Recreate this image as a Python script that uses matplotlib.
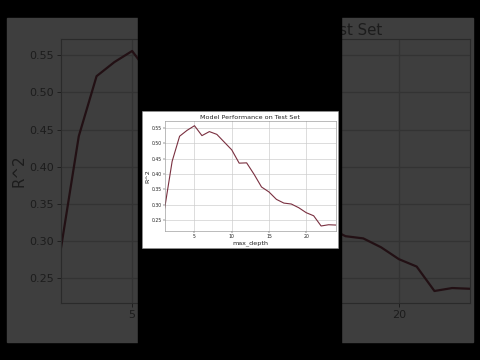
import matplotlib
matplotlib.use("Agg")
import matplotlib.pyplot as plt
from matplotlib.patches import Rectangle

# R^2 on the test set for each tree depth
max_depth = [1, 2, 3, 4, 5, 6, 7, 8, 9, 10, 11, 12,
             13, 14, 15, 16, 17, 18, 19, 20, 21, 22, 23, 24]
r2_scores = [0.290, 0.441, 0.522, 0.541, 0.556, 0.524, 0.537, 0.528,
             0.503, 0.478, 0.435, 0.436, 0.399, 0.358, 0.342, 0.318,
             0.306, 0.303, 0.291, 0.275, 0.265, 0.232, 0.236, 0.235]
x_ticks = [5, 10, 15, 20]
y_ticks = [0.25, 0.30, 0.35, 0.40, 0.45, 0.50, 0.55]

W, H = 480, 360


def px_rect(left, top, right, bottom):
    # pixel box (origin top-left) -> figure fraction [x, y, w, h]
    return [left / W, 1 - bottom / H, (right - left) / W, (bottom - top) / H]


def draw_chart(ax, tick_fs, label_fs, line_color, face, grid_color,
               spine_color, text_color, tick_len, tick_pad, lw):
    ax.set_facecolor(face)
    ax.plot(max_depth, r2_scores, color=line_color, linewidth=lw)
    ax.set_xlim(1, 24)
    ax.set_xticks(x_ticks)
    ax.set_yticks(y_ticks)
    ax.set_yticklabels([f"{v:.2f}" for v in y_ticks])
    ax.grid(True, color=grid_color, linewidth=lw * 0.6)
    ax.tick_params(labelsize=tick_fs, length=tick_len, pad=tick_pad,
                   colors=text_color, width=lw * 0.4)
    for s in ax.spines.values():
        s.set_color(spine_color)
        s.set_linewidth(lw * 0.5)
    ax.set_title("Model Performance on Test Set", fontsize=label_fs,
                 color=text_color, pad=tick_pad * 1.5)
    ax.set_xlabel("max_depth", fontsize=label_fs, color=text_color,
                  labelpad=tick_pad)
    ax.set_ylabel("R^2", fontsize=label_fs, color=text_color,
                  labelpad=tick_pad)


fig = plt.figure(figsize=(4.8, 3.6), dpi=100, facecolor="black")

# darkened, enlarged copy in the background
fig.add_artist(Rectangle((7 / W, 1 - 342 / H), 466 / W, 324 / H,
                         transform=fig.transFigure, color="#3e3e3e",
                         zorder=-1))
ax_bg = fig.add_axes(px_rect(61, 39, 470, 303))
draw_chart(ax_bg, 8, 10.8, "#221014", "#3e3e3e", "#333333", "#2a2a2a",
           "#1c1c1c", 3, 2, 1.6)

# black strip down the middle
fig.add_artist(Rectangle((138 / W, 0), 203 / W, 1,
                         transform=fig.transFigure, color="black", zorder=2))
# white card for the small chart
fig.add_artist(Rectangle((142 / W, 1 - 248 / H), 196 / W, 137 / H,
                         transform=fig.transFigure, facecolor="white",
                         edgecolor="#999999", linewidth=0.4, zorder=3))

ax = fig.add_axes(px_rect(164.7, 120.7, 336, 231))
ax.set_zorder(4)
draw_chart(ax, 3.3, 4.6, "#7a3040", "white", "#cccccc", "#888888",
           "#222222", 1.2, 0.8, 0.8)

fig.savefig("out.png", dpi=100, facecolor="black")
